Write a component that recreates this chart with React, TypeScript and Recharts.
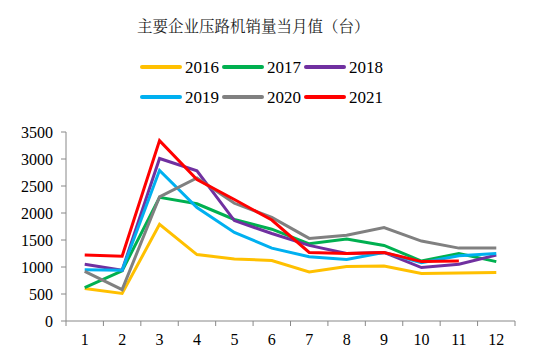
import React from "react";
import { LineChart, Line, XAxis, YAxis, Legend } from "recharts";

const months = [1, 2, 3, 4, 5, 6, 7, 8, 9, 10, 11, 12];
const s2016 = [600, 510, 1790, 1230, 1150, 1120, 910, 1010, 1020, 880, 890, 900];
const s2017 = [620, 930, 2290, 2170, 1880, 1700, 1430, 1520, 1400, 1110, 1250, 1100];
const s2018 = [1050, 940, 3010, 2780, 1860, 1620, 1400, 1250, 1270, 990, 1050, 1220];
const s2019 = [950, 940, 2790, 2100, 1640, 1350, 1190, 1140, 1270, 1080, 1210, 1250];
const s2020 = [920, 580, 2300, 2650, 2180, 1920, 1530, 1590, 1730, 1480, 1350, 1350];
const s2021 = [1220, 1200, 3340, 2620, 2250, 1870, 1270, 1250, 1270, 1100, 1110, null];
const yTicks = [0, 500, 1000, 1500, 2000, 2500, 3000, 3500];
const title = "主要企业压路机销量当月值（台）";

const seriesDefs = [
  { key: "2016", values: s2016, color: "#FFC000" },
  { key: "2017", values: s2017, color: "#00B050" },
  { key: "2018", values: s2018, color: "#7030A0" },
  { key: "2019", values: s2019, color: "#00B0F0" },
  { key: "2020", values: s2020, color: "#808080" },
  { key: "2021", values: s2021, color: "#FF0000" },
];

const data = months.map((m, i) => {
  const row: Record<string, number | null> = { month: m };
  seriesDefs.forEach((s) => {
    row[s.key] = s.values[i];
  });
  return row;
});

const W = 550;
const H = 360;
const M = { top: 50, right: 35, bottom: 9, left: 0 };
const Y_W = 66;
const PLOT_W = W - M.left - M.right - Y_W;
const HALF = PLOT_W / months.length / 2;
const FONT = "'Liberation Serif'";

const XTick = (props: any) => {
  const { x, y, payload, index } = props;
  const axisY = y - 13;
  return (
    <g>
      <line x1={x - HALF} x2={x - HALF} y1={axisY} y2={axisY + 5} stroke="#888" />
      {index === months.length - 1 && (
        <line x1={x + HALF} x2={x + HALF} y1={axisY} y2={axisY + 5} stroke="#888" />
      )}
      <text x={x} y={y} dy="0.71em" textAnchor="middle" fill="#000" fontSize={16} style={{ fontFamily: FONT }}>
        {payload.value}
      </text>
    </g>
  );
};

const YTick = (props: any) => {
  const { x, y, payload } = props;
  return (
    <text x={x} y={y} dy="0.355em" textAnchor="end" fill="#000" fontSize={16} style={{ fontFamily: FONT }}>
      {payload.value}
    </text>
  );
};

const LegendContent = () => (
  <div
    style={{
      height: 82,
      paddingTop: 2,
      boxSizing: "border-box",
      display: "flex",
      flexWrap: "wrap",
      alignContent: "flex-start",
      width: 250,
    }}
  >
    {seriesDefs.map((s) => (
      <div key={s.key} style={{ width: 82, height: 30, display: "flex", alignItems: "center" }}>
        <div style={{ width: 42, height: 4, background: s.color, borderRadius: 2, marginRight: 3 }} />
        <span style={{ fontFamily: FONT, fontSize: 17, color: "#000", lineHeight: "17px" }}>{s.key}</span>
      </div>
    ))}
  </div>
);

export default function App() {
  return (
    <div style={{ position: "absolute", left: 0, top: 0, width: W, height: H, background: "#fff" }}>
      <div
        style={{
          position: "absolute",
          left: 137,
          top: 15,
          fontFamily: "'Noto Serif CJK SC'",
          fontSize: 15.5,
          lineHeight: "20px",
          color: "#222",
          whiteSpace: "nowrap",
        }}
      >
        {title}
      </div>
      <LineChart width={W} height={H} data={data} margin={M}>
        <XAxis
          dataKey="month"
          type="number"
          domain={[0.5, 12.5]}
          ticks={months}
          interval={0}
          tick={<XTick />}
          tickLine={false}
          tickSize={5}
          tickMargin={8}
          height={30}
          axisLine={{ stroke: "#888" }}
        />
        <YAxis
          domain={[0, 3500]}
          ticks={yTicks}
          interval={0}
          width={Y_W}
          tickSize={5}
          tickMargin={8}
          tickLine={{ stroke: "#888" }}
          axisLine={{ stroke: "#888" }}
          tick={<YTick />}
        />
        <Legend verticalAlign="top" content={<LegendContent />} wrapperStyle={{ top: 50, left: 140, width: 250 }} />
        {seriesDefs.map((s) => (
          <Line
            key={s.key}
            dataKey={s.key}
            stroke={s.color}
            strokeWidth={3}
            dot={false}
            activeDot={false}
            isAnimationActive={false}
            type="linear"
          />
        ))}
      </LineChart>
    </div>
  );
}
